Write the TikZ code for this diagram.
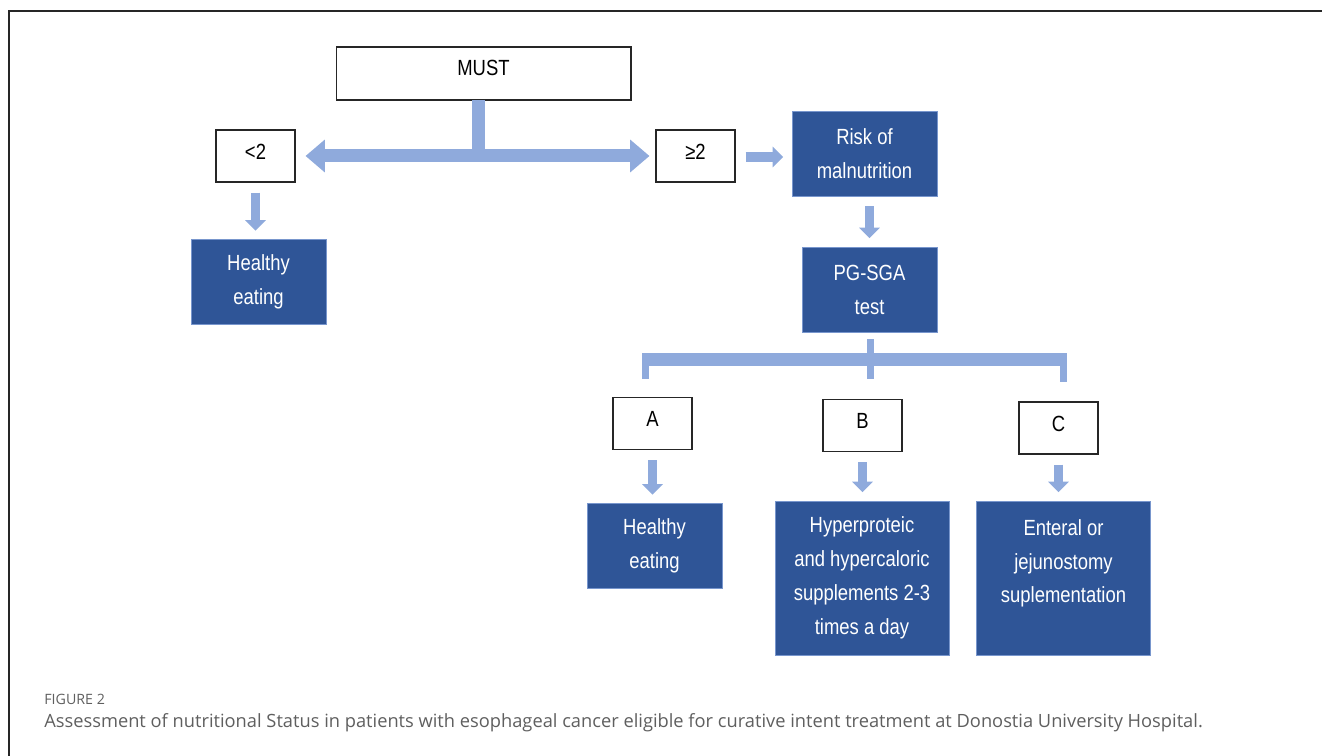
\documentclass[tikz,border=0pt]{standalone}
\usepackage{fontspec}
\newfontfamily\diagfont[FakeStretch=0.84]{Liberation Sans}
\newfontfamily\capfont{Open Sans}
\usepackage{tikz}
\usetikzlibrary{arrows.meta,positioning,calc}
\definecolor{boxblue}{RGB}{47,85,151}
\definecolor{boxedge}{RGB}{120,150,205}
\definecolor{arrowblue}{RGB}{143,170,220}
\definecolor{capgray}{RGB}{95,95,95}

\begin{document}
\begin{tikzpicture}[x=0.02cm, y=-0.02cm,
    score/.style={draw=black!85, line width=0.6pt, fill=white, minimum width=1.58cm, minimum height=1.04cm, inner sep=0pt, text depth=0.18cm, font=\diagfont\fontsize{12.5}{19.3}\selectfont},
    action/.style={draw=boxedge, line width=0.4pt, fill=boxblue, text=white, minimum width=2.7cm, minimum height=1.7cm, align=center, inner sep=0pt, font=\diagfont\fontsize{12.5}{19.3}\selectfont},
    plan/.style={action, minimum width=3.48cm, minimum height=3.08cm},
    mainarrow/.style={draw=arrowblue, line width=7.4pt, -{Triangle[width=18pt,length=11pt]}},
    smallarrow/.style={draw=arrowblue, line width=5.3pt, -{Triangle[width=11.5pt,length=6pt]}, shorten <=0.2cm, shorten >=0.17cm},
    bar/.style={draw=arrowblue, line width=7.4pt},
    drop/.style={draw=arrowblue, line width=4pt},
    caption/.style={anchor=base west, inner sep=0pt, text=capgray}
]
\useasboundingbox (0,0) rectangle (1322,756);
\draw[line width=1.1pt, black!85] (9,756) -- (9,11) -- (1322,11);

\node[score, minimum width=5.9cm, minimum height=1.06cm, text depth=0.22cm] (must) at (483.5,73.5) {MUST};
\node[score] (lt) at (255.5,156) {<2};
\node[score] (ge) at (695.5,156) {≥2};
\node[action, minimum width=2.9cm] (risk) at (864.5,153.5) {Risk of\\malnutrition};
\node[action] (hl) at (258.5,282) {Healthy\\eating};
\node[action] (pgsga) at (869.5,289.5) {PG-SGA\\test};

\node[score] (a) at (652.5,423.5) {A};
\node[score] (b) at (862.5,425.5) {B};
\node[score] (c) at (1058.5,428) {C};
\node[action] (ha) at (654.5,546) {Healthy\\eating};
\node[plan] (hyper) at (862,578) {Hyperproteic\\and hypercaloric\\supplements 2-3\\times a day};
\node[plan] (enteral) at (1063.5,578) {Enteral or\\jejunostomy\\suplementation\\\mbox{}};

\coordinate (split) at (478.5,156);
\draw[bar] (478.5,100) -- (split);
\draw[mainarrow, shorten >=0.2cm] (split) -- (lt.east);
\draw[mainarrow, shorten >=0.12cm] (split) -- (ge.west);

\draw[smallarrow] (lt.south) -- (lt.south |- hl.north);
\draw[smallarrow] (ge.east |- 0,157) -- (risk.west |- 0,157);
\draw[smallarrow] (pgsga.north |- risk.south) -- (pgsga.north);

\coordinate (forkl) at (645.5,359.5);
\coordinate (forkr) at (1063.5,359.5);
\draw[bar] ($(forkl)+(-3.5,0)$) -- ($(forkr)+(3.5,0)$);
\draw[drop] (forkl) ++(0,-6) -- (645.5,379);
\draw[drop] (forkr) ++(0,-6) -- (1063.5,382);
\draw[drop] ($(pgsga.south)+(1,7)$) -- (870.5,379);

\draw[smallarrow] (a.south) -- (a.south |- ha.north);
\draw[smallarrow] (b.south) -- (b.south |- hyper.north);
\draw[smallarrow] (c.south) -- (c.south |- enteral.north);

\node[caption, font=\capfont\fontsize{8.1}{9}\selectfont] (fig) at (44,704) {FIGURE 2};
\node[caption, font=\capfont\fontsize{10.4}{12}\selectfont] (cap) at (44,727) {Assessment of nutritional Status in patients with esophageal cancer eligible for curative intent treatment at Donostia University Hospital.};
\end{tikzpicture}
\end{document}
